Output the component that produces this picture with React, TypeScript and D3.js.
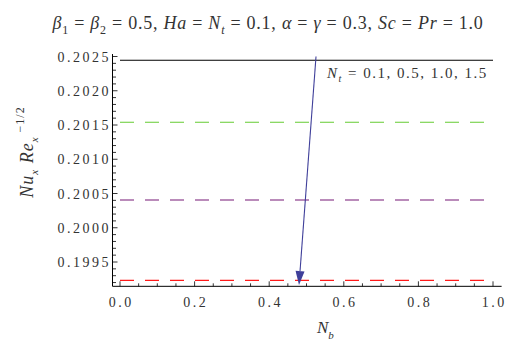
import * as d3 from "d3";

// N_b samples and Nu_x Re_x^(-1/2) for each N_t (lines are flat in N_b)
const nbValues: number[] = [0, 0.5, 1];
const ntLabels: string[] = ["0.1", "0.5", "1.0", "1.5"];
const nuNt01: number[] = [0.202445, 0.202445, 0.202445];
const nuNt05: number[] = [0.20154, 0.20154, 0.20154];
const nuNt10: number[] = [0.200405, 0.200405, 0.200405];
const nuNt15: number[] = [0.199233, 0.199233, 0.199233];

const xTicks: number[] = [0, 0.2, 0.4, 0.6, 0.8, 1.0];
const yTicks: number[] = [0.1995, 0.2, 0.2005, 0.201, 0.2015, 0.202, 0.2025];

// arrow annotation, in data units (N_b, Nu)
const arrowFrom: [number, number] = [0.5255, 0.2025];
const arrowTo: [number, number] = [0.4799, 0.199164];

const series = [
  { values: nuNt01, color: "#000000", dash: "none" },
  { values: nuNt05, color: "#66cc33", dash: "14,11" },
  { values: nuNt10, color: "#761876", dash: "14,11" },
  { values: nuNt15, color: "#ff1a1a", dash: "14,11" },
];

export default function App() {
  const w = 530;
  const h = 349;
  const x = d3.scaleLinear().domain([0, 1]).range([120, 493]);
  const y = d3.scaleLinear().domain([0.1995, 0.2025]).range([262, 56.5]);

  const xMin = -0.0201;
  const xMax = 1.0231;
  const yMin = 0.199145;
  const yMax = 0.202536;

  const line = d3
    .line<number>()
    .x((d, i) => x(nbValues[i]))
    .y((d) => y(d));

  const xMinor = d3.range(0, 1.0001, 0.05);
  const yMinor = d3.range(0.1992, 0.20255, 0.0001);

  const font = "Liberation Serif, DejaVu Serif, serif";
  const textColor = "#333";

  // arrow geometry
  const ax1 = x(arrowFrom[0]);
  const ay1 = y(arrowFrom[1]);
  const ax2 = x(arrowTo[0]);
  const ay2 = y(arrowTo[1]);
  const ang = Math.atan2(ay2 - ay1, ax2 - ax1);
  const headLen = 14;
  const headW = 4.5;
  const bx = ax2 - headLen * Math.cos(ang);
  const by = ay2 - headLen * Math.sin(ang);
  const px = -Math.sin(ang);
  const py = Math.cos(ang);
  const head = `M${ax2},${ay2}L${bx + px * headW},${by + py * headW}L${bx - px * headW},${by - py * headW}Z`;

  return (
    <svg
      width={w}
      height={h}
      style={{ position: "absolute", left: 0, top: 0, background: "#fff", fontFamily: font }}
    >
      {/* title */}
      <text x={268} y={29} fontSize={18} fill={textColor} textAnchor="middle" letterSpacing={0.75} style={{ fontFamily: font }}>
        <tspan fontStyle="italic">β</tspan>
        <tspan fontSize={12} dy={5}>1</tspan>
        <tspan dy={-5}> = </tspan>
        <tspan fontStyle="italic">β</tspan>
        <tspan fontSize={12} dy={5}>2</tspan>
        <tspan dy={-5}> = 0.5,  </tspan>
        <tspan fontStyle="italic">Ha</tspan>
        <tspan> = </tspan>
        <tspan fontStyle="italic">N</tspan>
        <tspan fontSize={12} fontStyle="italic" dy={5}>t</tspan>
        <tspan dy={-5}> = 0.1, </tspan>
        <tspan fontStyle="italic">α</tspan>
        <tspan> = </tspan>
        <tspan fontStyle="italic">γ</tspan>
        <tspan> = 0.3,  </tspan>
        <tspan fontStyle="italic">Sc</tspan>
        <tspan> = </tspan>
        <tspan fontStyle="italic">Pr</tspan>
        <tspan> = 1.0</tspan>
      </text>

      {/* data lines */}
      {series.map((s, i) => (
        <path
          key={i}
          d={line(s.values) || ""}
          fill="none"
          stroke={s.color}
          strokeWidth={1.2}
          strokeDasharray={s.dash}
        />
      ))}

      {/* axes */}
      <line x1={x(xMin)} x2={x(xMax)} y1={y(yMin)} y2={y(yMin)} stroke="#000" strokeWidth={1} />
      <line x1={x(xMin)} x2={x(xMin)} y1={y(yMin)} y2={y(yMax)} stroke="#000" strokeWidth={1} />

      {xMinor.map((t, i) => {
        const major = xTicks.some((m) => Math.abs(m - t) < 1e-9);
        return (
          <line
            key={"xm" + i}
            x1={x(t)}
            x2={x(t)}
            y1={y(yMin)}
            y2={y(yMin) - (major ? 5 : 3)}
            stroke="#000"
            strokeWidth={0.8}
          />
        );
      })}
      {yMinor.map((t, i) => {
        const major = yTicks.some((m) => Math.abs(m - t) < 1e-9);
        return (
          <line
            key={"ym" + i}
            x1={x(xMin)}
            x2={x(xMin) + (major ? 5 : 3.5)}
            y1={y(t)}
            y2={y(t)}
            stroke="#000"
            strokeWidth={0.8}
          />
        );
      })}

      {xTicks.map((t) => (
        <text
          key={"xt" + t}
          x={x(t)}
          y={307}
          fontSize={14}
          fill={textColor}
          textAnchor="middle"
          letterSpacing={2.5}
          dx={1.25}
          style={{ fontFamily: font }}
        >
          {d3.format(".1f")(t)}
        </text>
      ))}
      {yTicks.map((t) => (
        <text
          key={"yt" + t}
          x={x(xMin) - 4}
          y={y(t) + 5}
          fontSize={14}
          fill={textColor}
          textAnchor="end"
          letterSpacing={2.5}
          dx={2.5}
          style={{ fontFamily: font }}
        >
          {d3.format(".4f")(t)}
        </text>
      ))}

      {/* axis labels */}
      <text x={317} y={333} fontSize={17} fill={textColor} fontStyle="italic" style={{ fontFamily: font }}>
        N<tspan fontSize={11} dy={6}>b</tspan>
      </text>
      <text transform="translate(33,152) rotate(-90)" fontSize={18} fill={textColor} textAnchor="middle" letterSpacing={1} style={{ fontFamily: font }}>
        <tspan fontStyle="italic">Nu</tspan>
        <tspan fontSize={11} fontStyle="italic" dy={5}>x</tspan>
        <tspan fontStyle="italic" dy={-5}> Re</tspan>
        <tspan fontSize={11} fontStyle="italic" dy={5}>x</tspan>
        <tspan fontSize={12} dy={-14}> −1/2</tspan>
      </text>

      {/* arrow + annotation */}
      <line x1={ax1} y1={ay1} x2={bx} y2={by} stroke="#3f3f9a" strokeWidth={1.1} />
      <path d={head} fill="#3f3f9a" />
      <text x={327} y={78} fontSize={15} fill={textColor} letterSpacing={1.5} style={{ fontFamily: font }}>
        <tspan fontStyle="italic">N</tspan>
        <tspan fontSize={10} fontStyle="italic" dy={4}>t</tspan>
        <tspan dy={-4}> = {ntLabels.join(", ")}</tspan>
      </text>
    </svg>
  );
}
